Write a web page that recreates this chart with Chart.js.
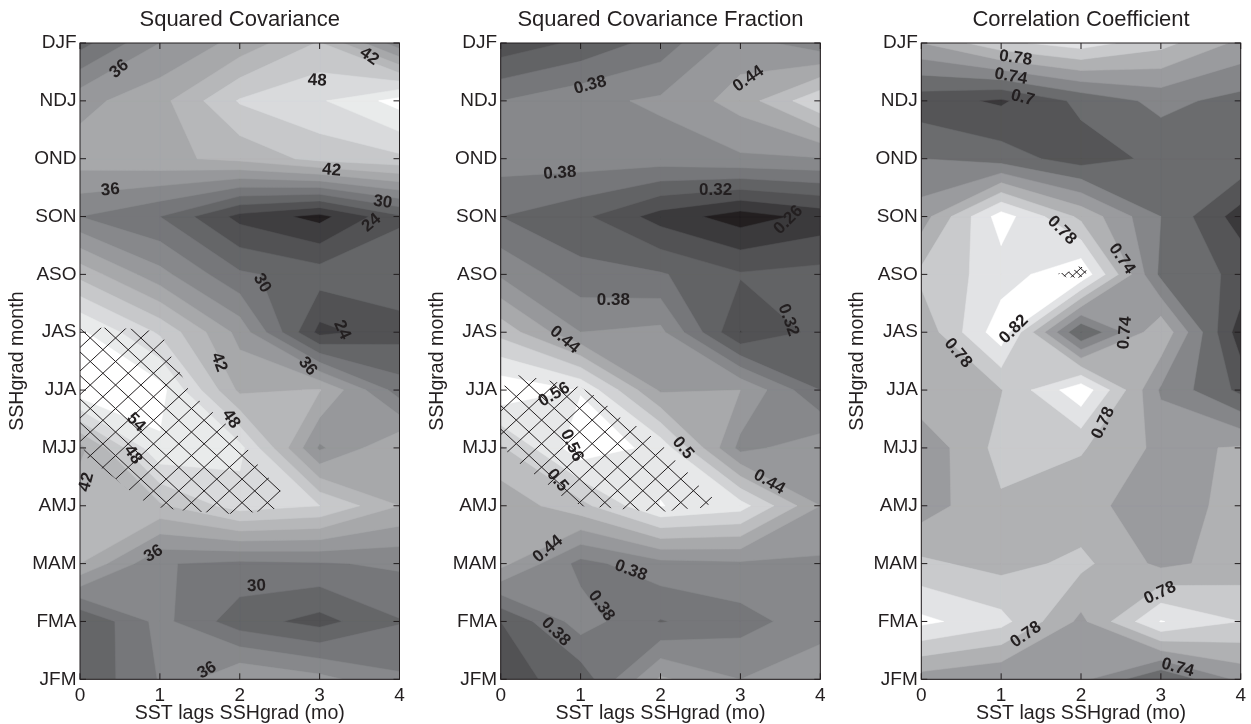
<!DOCTYPE html>
<html>
<head>
<meta charset="utf-8">
<title>SST and SSHgrad lag analysis</title>
<script src="https://cdn.jsdelivr.net/npm/chart.js@4"></script>
<style>
    html, body { margin: 0; padding: 0; background: #fff; }
    #wrap { position: relative; width: 1251px; height: 724px; overflow: hidden; }
    canvas { position: absolute; top: 0; }
</style>
</head>
<body>
<div id="wrap">
    <canvas id="covChart" width="420" height="724" style="left:0"></canvas>
    <canvas id="fracChart" width="420" height="724" style="left:420px"></canvas>
    <canvas id="corrChart" width="411" height="724" style="left:840px"></canvas>
</div>
<script>
// axes
const lags = [0, 1, 2, 3, 4];
const months = ['JFM', 'FMA', 'MAM', 'AMJ', 'MJJ', 'JJA', 'JAS', 'ASO', 'SON', 'OND', 'NDJ', 'DJF'];

// grids: one row per month (JFM first), one column per lag
const covValues = [
    [27.4, 33.2, 39, 37, 33.5],
    [26.9, 34, 28.3, 25.9, 29.8],
    [42, 33.2, 32.3, 32.7, 33.5],
    [44.7, 44.5, 49.5, 48, 42],
    [41, 53.5, 52, 35.5, 41.9],
    [56.1, 55.2, 41.3, 42.2, 31.5],
    [54.6, 47.5, 38, 23, 25.8],
    [44, 37, 30.5, 28.5, 29],
    [33, 30, 23, 20, 26.5],
    [40.5, 41.3, 42.8, 46, 47.3],
    [38, 41, 48.3, 50.6, 55.2],
    [28.8, 36, 40, 45.3, 34]
];
const fracValues = [
    [.311, .33, .445, .41, .43],
    [.32, .395, .348, .368, .397],
    [.45, .37, .40, .405, .405],
    [.45, .49, .561, .543, .44],
    [.495, .5786, .551, .40, .43],
    [.583, .558, .435, .44, .35],
    [.49, .41, .418, .289, .33],
    [.405, .36, .353, .323, .33],
    [.35, .327, .277, .245, .27],
    [.3935, .396, .396, .405, .408],
    [.38, .402, .415, .4525, .525],
    [.30, .326, .363, .425, .39]
];
const corrValues = [
    [.75, .74, .745, .70, .745],
    [.825, .807, .755, .821, .80],
    [.784, .773, .785, .755, .768],
    [.75, .777, .767, .748, .768],
    [.745, .787, .782, .755, .762],
    [.775, .779, .835, .737, .695],
    [.765, .833, .699, .777, .668],
    [.785, .81, .837, .715, .695],
    [.75, .83, .775, .72, .67],
    [.72, .71, .69, .705, .716],
    [.688, .677, .705, .726, .713],
    [.76, .795, .81, .787, .755]
];

// contour levels and the grey of the band above each one (first grey = below the first level)
const covLevels = [21, 24, 27, 30, 33, 36, 39, 42, 45, 48, 51, 54];
const covShades = ['#231f20', '#3f3e40', '#525254', '#656668', '#76777a', '#87888b', '#97989b', '#a7a8aa', '#b6b7b9', '#c7c8ca', '#d9dadc', '#e9ebeb', '#ffffff'];
const fracLevels = [.26, .29, .32, .35, .38, .41, .44, .47, .5, .53, .56];
const fracShades = ['#231f20', '#3b3a3c', '#525254', '#626365', '#76777a', '#87888b', '#97989b', '#a8a9ab', '#bcbdbf', '#d1d2d4', '#e7e8e9', '#ffffff'];
const corrLevels = [.66, .68, .70, .72, .74, .76, .78, .80, .82];
const corrShades = ['#231f20', '#3a393b', '#555557', '#6b6c6e', '#858689', '#9a9b9e', '#b0b1b3', '#c9cacc', '#e2e3e5', '#ffffff'];

// saddle cells where the original keeps the high corners joined: row, column, level
const corrJoined = [[6, 1, .82]];

// contour labels: text, lag, month position, rotation in degrees
const covLabels = [
    ['36', .49, 10.55, -40], ['48', 2.97, 10.35, 3], ['42', 3.62, 10.77, 35], ['42', 3.15, 8.8, 5],
    ['36', .38, 8.46, -5], ['30', 3.79, 8.25, 8], ['24', 3.65, 7.89, -40], ['30', 2.28, 6.85, 60],
    ['24', 3.28, 6.04, 65], ['42', 1.74, 5.48, 70], ['36', 2.85, 5.41, 50], ['48', 1.89, 4.5, 55],
    ['54', .7, 4.44, 45], ['48', .66, 3.88, 55], ['42', .08, 3.41, -75], ['36', .92, 2.17, -30],
    ['30', 2.21, 1.61, -3], ['36', 1.59, .155, -30]
];
const fracLabels = [
    ['0.38', 1.12, 10.27, -15], ['0.44', 3.1, 10.38, -35], ['0.38', .74, 8.75, -4], ['0.32', 2.69, 8.45, 0],
    ['0.26', 3.6, 7.94, -45], ['0.38', 1.41, 6.55, 0], ['0.32', 3.6, 6.21, 70], ['0.44', .8, 5.87, 40],
    ['0.56', .67, 4.92, -30], ['0.56', .89, 4.04, 65], ['0.5', .71, 3.44, 50], ['0.5', 2.28, 4, 50],
    ['0.44', 3.36, 3.41, 30], ['0.44', .59, 2.25, -40], ['0.38', 1.63, 1.88, 20], ['0.38', 1.26, 1.27, 55],
    ['0.38', .69, .82, 45]
];
const corrLabels = [
    ['0.78', 1.18, 10.74, 8], ['0.74', 1.12, 10.42, 10], ['0.7', 1.27, 10.05, 15], ['0.78', 1.76, 7.76, 45],
    ['0.74', 2.51, 7.27, 55], ['0.82', 1.16, 6.05, -45], ['0.74', 2.55, 5.99, -85], ['0.78', .46, 5.64, 50],
    ['0.78', 2.28, 4.43, -65], ['0.78', 2.99, 1.49, -25], ['0.78', 1.31, .77, -35], ['0.74', 3.21, .2, 15]
];

// outlines of the hatched (significant) regions as [lag, month position]
const covHatch = [
    [0, 6.06], [.355, 6.08], [.626, 6.06], [.927, 6.02], [1.065, 5.86], [1.17, 5.48], [1.286, 5.22], [1.37, 4.97],
    [1.524, 4.78], [1.68, 4.59], [1.84, 4.4], [1.99, 4.19], [2.11, 3.96], [2.23, 3.7], [2.36, 3.49], [2.51, 3.26],
    [2.45, 2.95], [2.18, 2.89], [1.88, 2.86], [1.57, 2.89], [1.29, 2.92], [1, 2.97], [.79, 3.09], [.605, 3.28],
    [.44, 3.47], [.27, 3.65], [.1, 3.81], [0, 4.13]
];
const fracHatch = [
    [0, 5.02], [.2, 5.26], [.51, 5.19], [1, 5.05], [1.2, 4.88], [1.35, 4.71], [1.51, 4.51], [1.72, 4.36],
    [1.89, 4.19], [2.06, 3.99], [2.2, 3.76], [2.35, 3.56], [2.47, 3.36], [2.65, 3.14], [2.58, 2.97], [2.33, 2.95],
    [2.06, 2.9], [1.7, 2.92], [1.37, 2.96], [1.03, 2.99], [.78, 3.15], [.58, 3.38], [.43, 3.53], [.26, 3.71],
    [.1, 3.87], [0, 4.25]
];
const corrHatch = [[1.7, 7.01], [1.9, 7.06], [1.99, 7.16], [2.09, 7.04], [1.99, 6.94], [1.82, 6.95]];

const INK = '#231f20';
const FONT = '"Liberation Sans", Arial, sans-serif';

// pieces of one grid cell where value >= level, walking round the cell edge.
// A saddle cell is split in two when its centre falls below the level.
function clipCell(grid, row, col, level, joined) {
    const corners = [[col, row], [col + 1, row], [col + 1, row + 1], [col, row + 1]];
    const vals = corners.map(c => grid[c[1]][c[0]]);
    const pts = [];
    corners.forEach((a, k) => {
        const b = corners[(k + 1) % 4];
        const va = vals[k];
        const vb = vals[(k + 1) % 4];
        if (va >= level) pts.push({ x: lags[a[0]], y: a[1] });
        if ((va >= level) !== (vb >= level)) {
            const t = (level - va) / (vb - va);
            pts.push({ x: lags[a[0]] + t * (lags[b[0]] - lags[a[0]]), y: a[1] + t * (b[1] - a[1]) });
        }
    });
    const centre = (vals[0] + vals[1] + vals[2] + vals[3]) / 4;
    const keep = joined.some(j => j[0] === row && j[1] === col && j[2] === level);
    if (pts.length === 6 && centre < level && !keep) {
        if (vals[0] >= level) return [[pts[0], pts[1], pts[5]], [pts[2], pts[3], pts[4]]];
        return [[pts[0], pts[1], pts[2]], [pts[3], pts[4], pts[5]]];
    }
    return pts.length > 2 ? [pts] : [];
}

// all cell pieces for one level, separated by null points
function levelPoints(grid, level, joined) {
    const data = [];
    for (let row = 0; row < months.length - 1; row++) {
        for (let col = 0; col < lags.length - 1; col++) {
            clipCell(grid, row, col, level, joined).forEach(piece => {
                data.push(...piece, { x: null, y: null });
            });
        }
    }
    return data;
}

const contourPlugin = {
    id: 'contourBands',
    beforeDatasetsDraw(chart) {
        const { ctx, chartArea } = chart;
        ctx.save();
        ctx.beginPath();
        ctx.rect(chartArea.left, chartArea.top, chartArea.width, chartArea.height);
        ctx.clip();
        chart.data.datasets.forEach((ds, i) => {
            ctx.beginPath();
            let open = false;
            chart.getDatasetMeta(i).data.forEach(p => {
                if (p.skip) { ctx.closePath(); open = false; return; }
                if (open) ctx.lineTo(p.x, p.y); else ctx.moveTo(p.x, p.y);
                open = true;
            });
            ctx.fillStyle = ds.backgroundColor;
            ctx.strokeStyle = ds.backgroundColor;
            ctx.lineWidth = 0.5;
            ctx.fill();
            ctx.stroke();
        });
        ctx.restore();
    },
    afterDatasetsDraw(chart, args, opts) {
        const { ctx, chartArea: area, scales: { x, y } } = chart;

        // hatching, clipped to the region outline
        ctx.save();
        ctx.beginPath();
        opts.hatch.forEach((p, i) => {
            const px = x.getPixelForValue(p[0]);
            const py = y.getPixelForValue(p[1]);
            if (i === 0) ctx.moveTo(px, py); else ctx.lineTo(px, py);
        });
        ctx.closePath();
        ctx.clip();
        ctx.strokeStyle = INK;
        ctx.lineWidth = 1;
        ctx.beginPath();
        const ax = x.getPixelForValue(opts.hatchLag);
        const ay = y.getPixelForValue(opts.hatchMonth);
        const reach = 500;
        const slope = 0.93;
        for (let k = -60; k <= 60; k++) {
            const x0 = ax + k * opts.hatchStep;
            ctx.moveTo(x0 - reach, ay - reach * slope);
            ctx.lineTo(x0 + reach, ay + reach * slope);
            ctx.moveTo(x0 - reach, ay + reach * slope);
            ctx.lineTo(x0 + reach, ay - reach * slope);
        }
        ctx.stroke();
        ctx.restore();

        // contour labels
        ctx.save();
        ctx.fillStyle = INK;
        ctx.font = 'bold 17px ' + FONT;
        ctx.textAlign = 'center';
        ctx.textBaseline = 'middle';
        opts.labels.forEach(l => {
            ctx.save();
            ctx.translate(x.getPixelForValue(l[1]), y.getPixelForValue(l[2]));
            ctx.rotate(l[3] * Math.PI / 180);
            ctx.fillText(l[0], 0, 0);
            ctx.restore();
        });
        ctx.restore();

        // box with inward ticks on all four sides
        ctx.save();
        ctx.strokeStyle = INK;
        ctx.lineWidth = 1;
        ctx.strokeRect(area.left, area.top, area.width, area.height);
        ctx.beginPath();
        x.ticks.forEach(t => {
            const px = x.getPixelForValue(t.value);
            ctx.moveTo(px, area.top); ctx.lineTo(px, area.top + 6);
            ctx.moveTo(px, area.bottom); ctx.lineTo(px, area.bottom - 6);
        });
        y.ticks.forEach(t => {
            const py = y.getPixelForValue(t.value);
            ctx.moveTo(area.left, py); ctx.lineTo(area.left + 6, py);
            ctx.moveTo(area.right, py); ctx.lineTo(area.right - 6, py);
        });
        ctx.stroke();
        ctx.restore();
    }
};

function makePanel(cfg) {
    const allLevels = [-Infinity, ...cfg.levels];
    new Chart(document.getElementById(cfg.id), {
        type: 'scatter',
        data: {
            datasets: allLevels.map((level, i) => ({
                label: String(level),
                data: levelPoints(cfg.grid, level, cfg.joined || []),
                backgroundColor: cfg.shades[i],
                pointRadius: 0,
                showLine: false
            }))
        },
        options: {
            responsive: false,
            animation: false,
            events: [],
            layout: { padding: { right: cfg.rightPad } },
            plugins: {
                legend: { display: false },
                tooltip: { enabled: false },
                title: {
                    display: true,
                    text: cfg.title,
                    fullSize: false,
                    color: INK,
                    font: { family: FONT, size: 22, weight: 'normal', lineHeight: 1.2 },
                    padding: { top: 6.8, bottom: 9.8 }
                },
                contourBands: {
                    labels: cfg.labels,
                    hatch: cfg.hatch,
                    hatchStep: cfg.hatchStep,
                    hatchLag: cfg.hatchLag,
                    hatchMonth: cfg.hatchMonth
                }
            },
            scales: {
                x: {
                    type: 'linear',
                    min: 0,
                    max: 4,
                    afterFit: s => { s.height = 44.7; },
                    grid: { display: false, drawTicks: false },
                    border: { display: false },
                    ticks: { stepSize: 1, maxRotation: 0, padding: 5, color: INK, font: { family: FONT, size: 19 } },
                    title: {
                        display: true,
                        text: 'SST lags SSHgrad (mo)',
                        color: INK,
                        font: { family: FONT, size: 19.6, lineHeight: 1.05 },
                        padding: 0
                    }
                },
                y: {
                    type: 'linear',
                    min: 0,
                    max: months.length - 1,
                    afterFit: s => { s.width = cfg.plotLeft; },
                    grid: { display: false, drawTicks: false },
                    border: { display: false },
                    ticks: {
                        stepSize: 1,
                        autoSkip: false,
                        padding: 3.5,
                        color: INK,
                        font: { family: FONT, size: 19 },
                        callback: v => months[v]
                    },
                    title: {
                        display: true,
                        text: 'SSHgrad month',
                        color: INK,
                        font: { family: FONT, size: 19.6, lineHeight: 1.2 },
                        padding: { top: 6, bottom: 0 }
                    }
                }
            }
        },
        plugins: [contourPlugin]
    });
}

makePanel({
    id: 'covChart', title: 'Squared Covariance', grid: covValues, levels: covLevels, shades: covShades,
    labels: covLabels, hatch: covHatch, hatchStep: 25.3, hatchLag: 2.504, hatchMonth: 3.257, plotLeft: 80, rightPad: 20.5
});
makePanel({
    id: 'fracChart', title: 'Squared Covariance Fraction', grid: fracValues, levels: fracLevels, shades: fracShades,
    labels: fracLabels, hatch: fracHatch, hatchStep: 25.3, hatchLag: 2.57, hatchMonth: 3.057, plotLeft: 80.7, rightPad: 19.7
});
makePanel({
    id: 'corrChart', title: 'Correlation Coefficient', grid: corrValues, levels: corrLevels, shades: corrShades, joined: corrJoined,
    labels: corrLabels, hatch: corrHatch, hatchStep: 8, hatchLag: 1.945, hatchMonth: 7.04, plotLeft: 81.3, rightPad: 10
});
</script>
</body>
</html>
